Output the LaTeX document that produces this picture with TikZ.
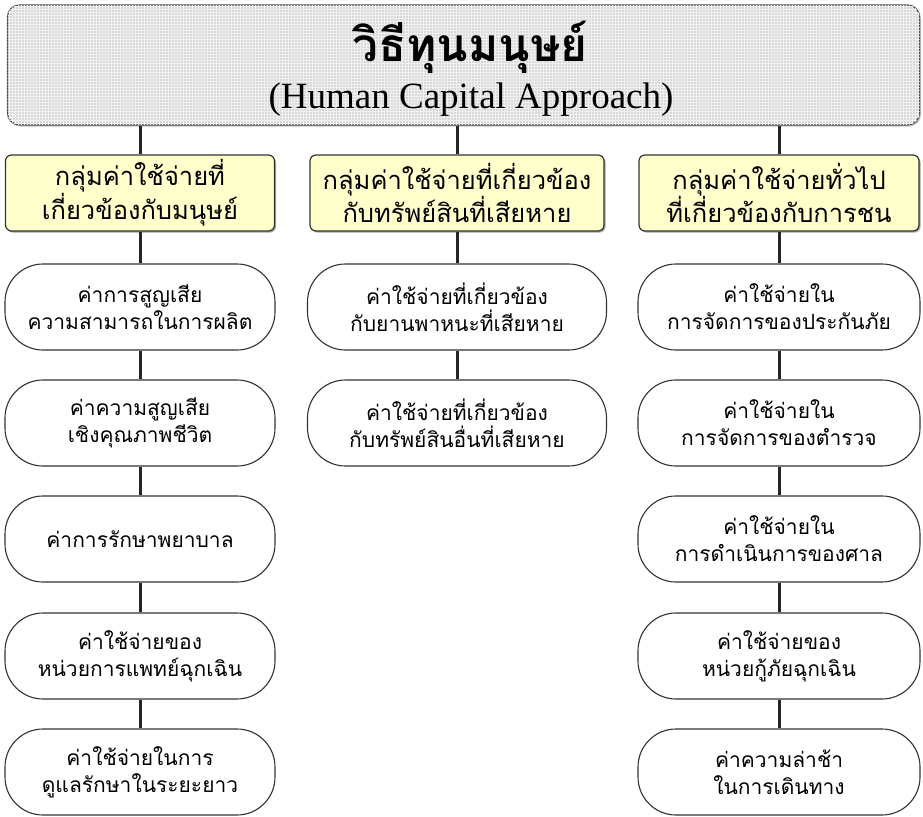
\documentclass[tikz,border=0pt]{standalone}
\usepackage{fontspec}
\setmainfont{Liberation Serif}
\newfontfamily\thai[Script=Thai]{Loma}
\usetikzlibrary{shadows,patterns}
\definecolor{headfill}{HTML}{FFFFCC}
\definecolor{topfill}{HTML}{D9D9D9}
\tikzset{
  conn/.style={line width=3pt, black!85},
  costbox/.style={draw=black!80, line width=1.1pt, fill=white, rounded corners=38pt,
    minimum height=86pt, align=center, inner sep=0pt,
    font=\thai\fontsize{21}{27}\selectfont},
  headbox/.style={draw=black!80, line width=1.2pt, fill=headfill, rounded corners=6pt,
    minimum height=76pt, align=center, inner sep=0pt,
    font=\thai\fontsize{25.5}{26}\selectfont,
    drop shadow={shadow xshift=1.5pt, shadow yshift=-1.5pt, fill=black!60, opacity=0.6}},
  topbox/.style={draw=black!70, line width=1.2pt, fill=topfill, rounded corners=12pt,
    postaction={pattern=grid, pattern color=white!60!topfill},
    drop shadow={shadow xshift=1.5pt, shadow yshift=-1.5pt, fill=black!50, opacity=0.5}},
  colA/.style={costbox, minimum width=270pt},
  colB/.style={costbox, minimum width=299pt},
  colC/.style={costbox, minimum width=282pt},
}
\begin{document}
\begin{tikzpicture}[x=1pt,y=-1pt]
\useasboundingbox (0,0) rectangle (923,816);
% top box
\node[topbox, minimum width=912pt, minimum height=120pt] (top) at (463.5,65) {};
\node[font=\thai\bfseries\fontsize{46}{46}\selectfont, anchor=base] (title) at (470,61) {วิธีทุนมนุษย์};
\node[font=\fontsize{37}{37}\selectfont, anchor=base] (sub) at (471,108) {(Human Capital Approach)};
% headers
\node[headbox, minimum width=269pt] (h1) at (140,193) {กลุ่มค่าใช้จ่ายที่\\เกี่ยวข้องกับมนุษย์};
\node[headbox, minimum width=294pt] (h2) at (457,193) {กลุ่มค่าใช้จ่ายที่เกี่ยวข้อง\\กับทรัพย์สินที่เสียหาย};
\node[headbox, minimum width=280pt] (h3) at (779,193) {กลุ่มค่าใช้จ่ายทั่วไป\\ที่เกี่ยวข้องกับการชน};
% column A
\node[colA] (a1) at (140,307) {ค่าการสูญเสีย\\ความสามารถในการผลิต};
\node[colA] (a2) at (140,423) {ค่าความสูญเสีย\\เชิงคุณภาพชีวิต};
\node[colA] (a3) at (140,539) {ค่าการรักษาพยาบาล};
\node[colA] (a4) at (140,656) {ค่าใช้จ่ายของ\\หน่วยการแพทย์ฉุกเฉิน};
\node[colA] (a5) at (140,772) {ค่าใช้จ่ายในการ\\ดูแลรักษาในระยะยาว};
% column B
\node[colB] (b1) at (457,307) {ค่าใช้จ่ายที่เกี่ยวข้อง\\กับยานพาหนะที่เสียหาย};
\node[colB] (b2) at (457,423) {ค่าใช้จ่ายที่เกี่ยวข้อง\\กับทรัพย์สินอื่นที่เสียหาย};
% column C
\node[colC] (c1) at (779,307) {ค่าใช้จ่ายใน\\การจัดการของประกันภัย};
\node[colC] (c2) at (779,423) {ค่าใช้จ่ายใน\\การจัดการของตำรวจ};
\node[colC] (c3) at (779,539) {ค่าใช้จ่ายใน\\การดำเนินการของศาล};
\node[colC] (c4) at (779,656) {ค่าใช้จ่ายของ\\หน่วยกู้ภัยฉุกเฉิน};
\node[colC] (c5) at (779,772) {ค่าความล่าช้า\\ในการเดินทาง};
% connectors
\draw[conn] (top.south -| h1.north) -- (h1.north);
\draw[conn] (top.south -| h2.north) -- (h2.north);
\draw[conn] (top.south -| h3.north) -- (h3.north);
\draw[conn] (h1.south) -- (a1.north);
\draw[conn] (a1.south) -- (a2.north);
\draw[conn] (a2.south) -- (a3.north);
\draw[conn] (a3.south) -- (a4.north);
\draw[conn] (a4.south) -- (a5.north);
\draw[conn] (h2.south) -- (b1.north);
\draw[conn] (b1.south) -- (b2.north);
\draw[conn] (h3.south) -- (c1.north);
\draw[conn] (c1.south) -- (c2.north);
\draw[conn] (c2.south) -- (c3.north);
\draw[conn] (c3.south) -- (c4.north);
\draw[conn] (c4.south) -- (c5.north);
\end{tikzpicture}
\end{document}
